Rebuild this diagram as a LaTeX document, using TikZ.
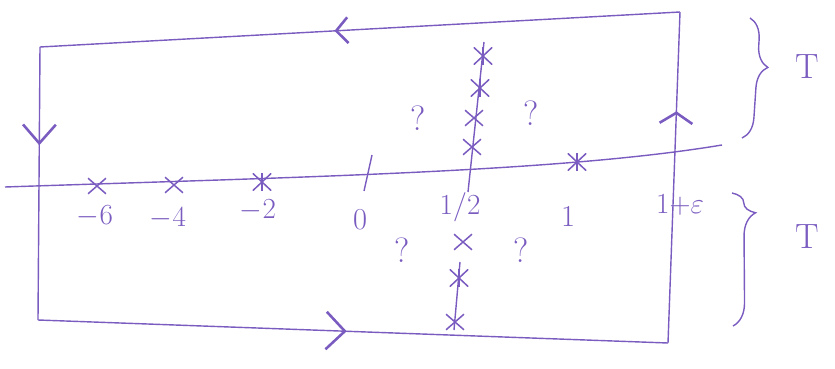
\documentclass[tikz,border=0pt]{standalone}
\usepackage{amsmath,amssymb}
\usetikzlibrary{arrows.meta,positioning,shapes.misc,decorations.markings,decorations.pathreplacing}
\definecolor{pencol}{HTML}{7A5CC0}

\begin{document}
\begin{tikzpicture}[
    x=0.03cm, y=-0.03cm,
    pencol, line width=1.2pt,
    flow/.style n args={3}{postaction={decorate},
      decoration={markings, mark=at position #1 with
        {\arrow{Straight Barb[length=#2, width=#3, line width=2.2pt]}}}},
    crossmk/.style={draw=pencol, cross out, minimum width=14pt,
      minimum height=12pt, inner sep=0pt, line width=1.3pt},
    starmk/.style={minimum width=16pt, minimum height=15pt, inner sep=0pt,
      path picture={\draw[pencol, line width=1.3pt]
        (path picture bounding box.north west) -- (path picture bounding box.south east)
        (path picture bounding box.south west) -- (path picture bounding box.north east)
        (path picture bounding box.north) -- (path picture bounding box.south);}},
    lbl/.style={font=\fontsize{26}{28}\selectfont, inner sep=1pt},
    qmark/.style={font=\fontsize{30}{32}\selectfont, inner sep=1pt},
  ]

  \useasboundingbox (0,0) rectangle (835,369);

  % Corners of the contour
  \coordinate (tl) at (40,47);
  \coordinate (tr) at (680,12);
  \coordinate (br) at (668,343);
  \coordinate (bl) at (38,320);

  % Contour with its direction marks
  \draw[flow={0.54}{10pt}{22pt}] (tr) -- (tl);
  \draw[flow={0.36}{16pt}{28pt}] (tl) -- (bl);
  \draw[flow={0.49}{16pt}{32pt}] (bl) -- (br);
  \draw[flow={0.70}{9pt}{28pt}] (br) -- (tr);

  % Real axis
  \coordinate (axl) at (5,187);
  \coordinate (axr) at (722,145);
  \draw (axl) .. controls (300,177) and (560,172) .. (axr);

  % Trivial zeros and poles on the axis
  \node[crossmk] (m6) at (97,186) {};
  \node[crossmk] (m4) at (174,185) {};
  \node[starmk] (m2) at (262,182) {};
  \node[starmk] (p1) at (577,162) {};

  \node[lbl] (l6) at (95,216) {$-6$};
  \node[lbl] (l4) at (168,218) {$-4$};
  \node[lbl] (l2) at (258,210) {$-2$};
  \node[lbl] (l0) at (360,220) {0};
  \node[lbl] (l1) at (568,216) {1};
  \node[lbl] (lhalf) at (460,207) {$1/2$};
  \node[lbl] (leps) at (680,205) {$1{+}\varepsilon$};

  % Tick at 0
  \coordinate (t0a) at (372,155);
  \coordinate (t0b) at (364,191);
  \draw (t0a) -- (t0b);

  % Critical line with zeros
  \coordinate (ctop) at (484,42);
  \coordinate (cmid) at (468,192);
  \coordinate (clow) at (460,262);
  \coordinate (cbot) at (454,330);
  \draw (ctop) -- (cmid);
  \draw (clow) -- (cbot);

  \node[starmk] (z1) at (483,56) {};
  \node[starmk] (z2) at (480,88) {};
  \node[crossmk] (z3) at (474,118) {};
  \node[crossmk] (z4) at (472,147) {};
  \node[crossmk] (z5) at (463,242) {};
  \node[starmk] (z6) at (459,278) {};
  \node[crossmk] (z7) at (455,322) {};

  % Unknown regions
  \node[qmark] (q1) at (418,118) {?};
  \node[qmark] (q2) at (531,113) {?};
  \node[qmark] (q3) at (402,250) {?};
  \node[qmark] (q4) at (521,250) {?};

  % Heights
  \draw[decorate, decoration={brace, amplitude=18pt, aspect=0.4}]
    (750,18) -- (742,138) coordinate[pos=0.4] (bu);
  \draw[decorate, decoration={brace, amplitude=20pt, aspect=0.15}]
    (732,193) -- (733,326) coordinate[pos=0.15] (bd);
  \node[qmark] (tu) at (807,67) {T};
  \node[qmark] (td) at (807,237) {T};

\end{tikzpicture}
\end{document}
